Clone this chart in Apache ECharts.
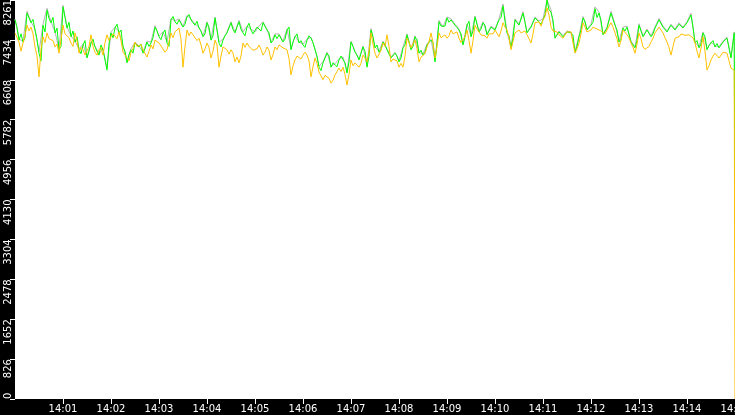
<!DOCTYPE html>
<html>
<head>
<meta charset="utf-8">
<script src="https://cdn.jsdelivr.net/npm/echarts@6/dist/echarts.min.js"></script>
<style>
  html, body { margin: 0; padding: 0; background: #000; }
  #chart { width: 735px; height: 415px; }
</style>
</head>
<body>
<div id="chart"></div>
<script>
// samples every 5 s from 14:00:00, in-between samples at +2.5 s, and the last two samples at the end
const STEP = 5
const tailSecs = [899, 900]

const greenVals = [
  7850, 7430, 7390, 7990, 7790, 7640, 7160, 7740, 8050, 7790,
  7580, 7230, 8120, 7680, 7500, 7390, 7230, 7330, 7060, 7370,
  7290, 7120, 7230, 6810, 7580, 7680, 7580,
  7290, 6960, 7230, 7370, 7290, 7160, 7390, 7370, 7700, 7500,
  7580, 7370, 7850, 7810, 7850, 7700, 7910, 7850, 7740, 7680,
  7500, 7790, 7430, 7890, 7370,
  7430, 7580, 7790, 7580, 7810, 7580, 7700, 7640, 7580, 7700,
  7790, 7640, 7370, 7540, 7540, 7390, 7640, 7230, 7500, 7370,
  7330, 7430, 7470, 7230, 6870, 6960, 7160,
  6870, 6920, 7020, 7060, 6750, 7390, 7180, 7020, 7290, 6870,
  7640, 7270, 7180, 7390, 7230, 7060, 7160, 6980, 7270, 7540,
  7230, 7500, 7160, 7120, 7330,
  7430, 6980, 7810, 7680, 7890, 7850, 7740, 7640, 7330, 7740,
  7500, 7910, 7600, 7790, 7540, 7700, 7640, 7850, 8140, 7580,
  7270, 7850, 7740, 7990, 7580, 7700,
  7890, 7810, 7850, 8260, 8010, 7470, 7600, 7500, 7600, 7580,
  7180, 7500, 7890, 7640, 7740, 8080, 7990, 7540, 7680, 7990,
  7740, 7390, 7680, 7700, 7390, 7270,
  7740, 7500, 7640, 7500, 7680, 7850, 7700, 7600, 7740, 7640,
  7760, 7680, 7790, 7950, 7370, 7270, 7580, 7230, 7370, 7290,
  7270, 7390, 7470, 7060
]
const greenMid = [
  7700, 7560, 7480, 8030, 7860, 7440, 7000, 7600, 7880, 7900,
  7680, 7300, 7900, 7800, 7620, 7500, 7150, 7420, 7200, 7450,
  7200, 7330, 7260, 7350, 7480, 7760, 7640, 7200, 7130, 7160,
  7400, 7350, 7250, 7300, 7480, 7620, 7440, 7640, 7300, 7920,
  7760, 7880, 7760, 7960, 7790, 7820, 7620, 7560, 7700, 7520,
  7640, 7290, 7520, 7540, 7650, 7700, 7650, 7520, 7780, 7560,
  7700, 7620, 7810, 7580, 7420, 7460, 7580, 7450, 7700, 7390,
  7560, 7420, 7280, 7520, 7380, 7100, 6800, 7000, 7100, 6960,
  6880, 7100, 6960, 6980, 7300, 7120, 7060, 7200, 7100, 7500,
  7330, 7240, 7330, 7200, 7040, 7100, 7060, 7330, 7520, 7300,
  7440, 7220, 7180, 7290, 7380, 7350, 7720, 7720, 7800, 7880,
  7720, 7560, 7500, 7820, 7620, 7760, 7660, 7740, 7580, 7740,
  7620, 7900, 7820, 7520, 7470, 7880, 7760, 7800, 7560, 7660,
  7900, 7760, 7950, 8060, 7840, 7440, 7620, 7480, 7560, 7530,
  7300, 7640, 7820, 7620, 7800, 7900, 7840, 7560, 7720, 7860,
  7640, 7450, 7620, 7660, 7360, 7420, 7700, 7480, 7660, 7560,
  7700, 7820, 7720, 7620, 7760, 7660, 7800, 7700, 7760, 7700,
  7420, 7350, 7500, 7320, 7420, 7360, 7300, 7380, 7430
]
const greenTail = [7580, 3650]

const orangeVals = [
  7580, 7390, 7370, 7740, 7700, 7290, 6670, 7500, 7580, 7500,
  7290, 7160, 7740, 7600, 7370, 7580, 7160, 7230, 7080, 7540,
  7180, 7230, 7120, 7540, 7500, 7540, 7600,
  7180, 7060, 7180, 7390, 7270, 7230, 7080, 7330, 7430, 7370,
  7270, 7230, 7580, 7600, 7680, 6870, 7640, 7600, 7500, 7470,
  7160, 7370, 7060, 7430, 6870,
  7290, 7230, 7230, 6980, 6960, 7370, 7370, 7270, 7180, 7330,
  7120, 7290, 7020, 7290, 7330, 7270, 7230, 6710, 7020, 7080,
  7120, 7120, 6670, 7060, 6770, 6610, 6710,
  6540, 6710, 6850, 6870, 6500, 7020, 6960, 6870, 7120, 6980,
  7580, 7160, 7080, 7370, 7540, 6980, 7080, 6870, 6870, 7470,
  7270, 7430, 6980, 7060, 7290,
  7580, 7060, 7580, 7500, 7470, 7640, 7580, 7470, 7370, 7640,
  7160, 7740, 7600, 7580, 7470, 7600, 7640, 7500, 7790, 7640,
  7230, 7580, 7640, 7600, 7540, 7370,
  7790, 7810, 7850, 8100, 7700, 7640, 7540, 7470, 7600, 7600,
  7160, 7370, 7790, 7600, 7640, 7740, 7680, 7580, 7640, 7790,
  7580, 7290, 7640, 7540, 7370, 7160,
  7580, 7290, 7230, 7390, 7580, 7700, 7580, 7390, 7120, 7470,
  7500, 7600, 7500, 7580, 7370, 7060, 7500, 6810, 7020, 7160,
  7060, 7180, 7160, 6850
]
const orangeMid = [
  7480, 7200, 7520, 7620, 7560, 7100, 7250, 7380, 7460, 7420,
  7350, 7450, 7560, 7480, 7300, 7420, 7280, 7120, 7300, 7300,
  7120, 7280, 7380, 7420, 7560, 7460, 7420, 7200, 7000, 7260,
  7300, 7340, 7200, 7200, 7250, 7470, 7310, 7180, 7400, 7480,
  7560, 7440, 7300, 7520, 7540, 7420, 7330, 7250, 7280, 7200,
  7330, 7100, 7320, 7140, 7160, 7080, 7100, 7280, 7300, 7220,
  7250, 7240, 7180, 7220, 7130, 7230, 7290, 7300, 7050, 6900,
  7100, 7040, 7180, 7000, 6880, 6950, 6760, 6700, 6640, 6600,
  6780, 6780, 6720, 6720, 6900, 7000, 6950, 7060, 7200, 7350,
  7060, 7220, 7300, 7300, 7040, 7000, 6950, 7100, 7380, 7300,
  7260, 7080, 7150, 7400, 7380, 7300, 7480, 7540, 7520, 7560,
  7600, 7380, 7500, 7420, 7420, 7660, 7540, 7520, 7560, 7560,
  7620, 7620, 7700, 7480, 7400, 7560, 7580, 7620, 7460, 7560,
  7760, 7720, 7920, 7950, 7620, 7600, 7560, 7500, 7560, 7380,
  7250, 7560, 7700, 7560, 7700, 7660, 7620, 7560, 7720, 7700,
  7460, 7420, 7600, 7480, 7280, 7350, 7460, 7240, 7300, 7470,
  7620, 7640, 7480, 7280, 7300, 7440, 7560, 7530, 7540, 7480,
  7200, 7260, 7200, 6900, 7100, 7120, 7100, 7200, 7000
]
const orangeTail = [6810, 0]

const grayVals = [
  7870, 7450, 7410, 8030, 7810, 7660, 7190, 7760, 8090, 7810,
  7600, 7250, 8150, 7700, 7520, 7410, 7250, 7350, 7080, 7390,
  7310, 7140, 7250, 6850, 7600, 7700, 7600,
  7310, 6990, 7250, 7390, 7310, 7180, 7410, 7390, 7730, 7520,
  7600, 7390, 7880, 7830, 7870, 7720, 7940, 7870, 7760, 7700,
  7520, 7810, 7450, 7910, 7390,
  7450, 7600, 7810, 7600, 7840, 7600, 7720, 7660, 7600, 7720,
  7810, 7660, 7390, 7560, 7560, 7410, 7660, 7250, 7520, 7390,
  7350, 7450, 7490, 7250, 6890, 6980, 7180,
  6890, 6940, 7040, 7080, 6780, 7410, 7200, 7040, 7310, 6890,
  7670, 7290, 7200, 7410, 7250, 7080, 7180, 7000, 7290, 7560,
  7250, 7520, 7180, 7140, 7350,
  7450, 7000, 7840, 7700, 7910, 7870, 7760, 7660, 7350, 7760,
  7520, 7930, 7620, 7810, 7560, 7720, 7660, 7870, 8180, 7600,
  7290, 7870, 7760, 8020, 7600, 7720,
  7910, 7830, 7870, 8261, 8060, 7490, 7620, 7520, 7620, 7600,
  7200, 7520, 7920, 7660, 7760, 8120, 8010, 7560, 7700, 8030,
  7760, 7410, 7700, 7720, 7410, 7290,
  7770, 7520, 7660, 7520, 7700, 7880, 7720, 7620, 7760, 7660,
  7790, 7700, 7810, 7990, 7390, 7290, 7600, 7250, 7390, 7310,
  7290, 7410, 7490, 7080
]
const grayTail = [7600, 3700]

const yTickLabels = ['0', '826', '1652', '2478', '3304', '4130', '4956', '5782', '6608', '7434', '8261']
const Y_MAX = 8261

function toPairs(vals, mids, tail) {
  const pts = []
  vals.forEach((v, i) => {
    pts.push([i * STEP, v])
    if (mids && i < mids.length) pts.push([i * STEP + STEP / 2, mids[i]])
  })
  tail.forEach((v, k) => pts.push([tailSecs[k], v]))
  return pts
}

function timeLabel(sec) {
  const m = Math.round(sec / 60)
  return '14:' + (m < 10 ? '0' + m : m)
}

function lineSeries(name, color, pts) {
  return {
    name: name,
    type: 'line',
    data: pts,
    showSymbol: false,
    symbol: 'none',
    lineStyle: { width: 1, color: color },
    itemStyle: { color: color }
  }
}

const myChart = echarts.init(document.getElementById('chart'))
myChart.setOption({
  animation: false,
  backgroundColor: '#000',
  grid: {
    left: 15, right: 0, top: 0, bottom: 16,
    outerBoundsMode: 'none',
    containLabel: false,
    show: true, backgroundColor: '#fff', borderWidth: 0
  },
  xAxis: {
    type: 'value',
    min: 0,
    max: 900,
    interval: 60,
    axisLine: { show: false },
    axisTick: { length: 5, lineStyle: { color: '#fff' } },
    splitLine: { show: false },
    axisLabel: {
      color: '#fff',
      fontFamily: 'DejaVu Sans',
      fontSize: 10,
      margin: 5,
      showMinLabel: false,
      hideOverlap: false,
      formatter: timeLabel
    }
  },
  yAxis: {
    type: 'value',
    min: 0,
    max: Y_MAX,
    interval: Y_MAX / 10,
    axisLine: { show: false },
    axisTick: { length: 5, lineStyle: { color: '#fff' } },
    splitLine: { show: false },
    axisLabel: {
      color: '#fff',
      fontFamily: 'DejaVu Sans',
      fontSize: 10,
      rotate: 90,
      align: 'right',
      verticalAlign: 'bottom',
      alignMinLabel: 'left',
      margin: 2,
      formatter: (v, i) => yTickLabels[i]
    }
  },
  series: [
    lineSeries('gray', '#b4b4b4', toPairs(grayVals, null, grayTail)),
    lineSeries('green', '#00ff00', toPairs(greenVals, greenMid, greenTail)),
    lineSeries('orange', '#ffc000', toPairs(orangeVals, orangeMid, orangeTail))
  ]
})
</script>
</body>
</html>
